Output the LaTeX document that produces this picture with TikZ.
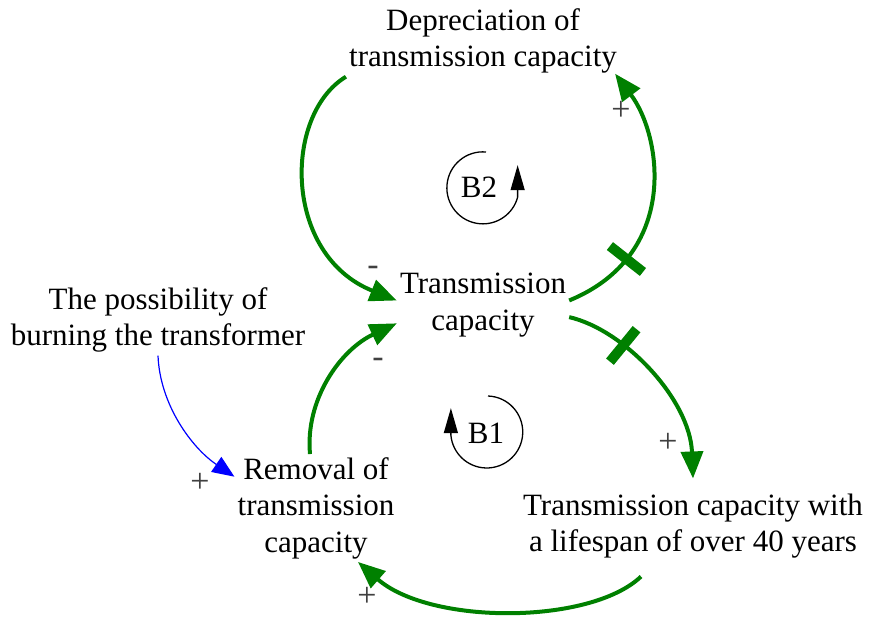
\documentclass[tikz,border=0pt]{standalone}
\usepackage{fontspec}
\setmainfont{Liberation Serif}
\usetikzlibrary{arrows.meta,positioning,calc}
\definecolor{loopgreen}{RGB}{0,128,0}
\definecolor{linkblue}{RGB}{0,0,255}
\definecolor{signgray}{RGB}{64,64,64}
\tikzset{
  varnode/.style={
    align=center,
    inner sep=3pt,
    font=\fontsize{31}{36.5}\selectfont
  },
  signnode/.style={
    text=signgray,
    inner sep=0pt,
    font=\fontsize{34}{36}\selectfont
  },
  flowarrow/.style={
    -{Triangle[length=27pt,width=22pt]},
    line width=4pt,
    draw=loopgreen
  },
  thinarrow/.style={
    -{Triangle[length=22pt,width=18pt]},
    line width=1.2pt,
    draw=linkblue
  },
  delaymark/.style={
    sloped,
    fill=loopgreen,
    inner sep=0pt,
    minimum width=10pt,
    minimum height=42pt
  },
  loopsign/.style={
    line width=1.3pt,
    -{Triangle[length=25pt,width=14pt]}
  }
}

\begin{document}
\begin{tikzpicture}[x=1pt,y=-1pt]
\useasboundingbox (0,0) rectangle (872,623);

% variables
\node[varnode] (dep) at (483,41) {Depreciation of\\transmission capacity};
\node[varnode] (tc) at (483,305) {Transmission\\capacity};
\node[varnode] (burn) at (158,320) {The possibility of\\burning the transformer};
\node[varnode] (rem) at (316,508) {Removal of\\transmission\\capacity};
\node[varnode] (old) at (693,526) {Transmission capacity with\\a lifespan of over 40 years};

% loop markers
\node[varnode] (b2) at (479,187) {B2};
\node[varnode] (b1) at (486,433) {B1};
\draw[loopsign] (486,152) arc[start angle=85, end angle=345, radius=36pt] -- ++(0,-32);
\draw[loopsign] (488,396) arc[start angle=88, end angle=-175, radius=36pt] -- ++(0,-27);

% links
\draw[flowarrow] (dep.south west) .. controls (283,115) and (283,255) .. (tc.177);
\draw[flowarrow] (tc.3) .. controls (680,255) and (662,136) .. ([xshift=-5pt,yshift=3pt]dep.south east)
  node[delaymark, pos=0.23] (dly2) {};
\draw[flowarrow] (tc.-8) .. controls (625,330) and (690,400) .. ([yshift=12pt]old.north)
  node[delaymark, pos=0.32] (dly1) {};
\draw[flowarrow] ([xshift=-52pt,yshift=-15pt]old.south) .. controls (590,625) and (430,625) .. ([xshift=42pt]rem.south);
\draw[flowarrow] ([xshift=-6pt]rem.north) .. controls (305,400) and (340,350) .. (tc.192);
\draw[thinarrow] (burn.south) .. controls (160,405) and (192,448) .. (rem.159);

% polarities
\node[signnode] (sgnA) at (373,271) {-};
\node[signnode] (sgnB) at (621,111) {+};
\node[signnode] (sgnC) at (668,443) {+};
\node[signnode] (sgnD) at (367,597) {+};
\node[signnode] (sgnE) at (378,363) {-};
\node[signnode] (sgnF) at (200,483) {+};
\end{tikzpicture}
\end{document}
